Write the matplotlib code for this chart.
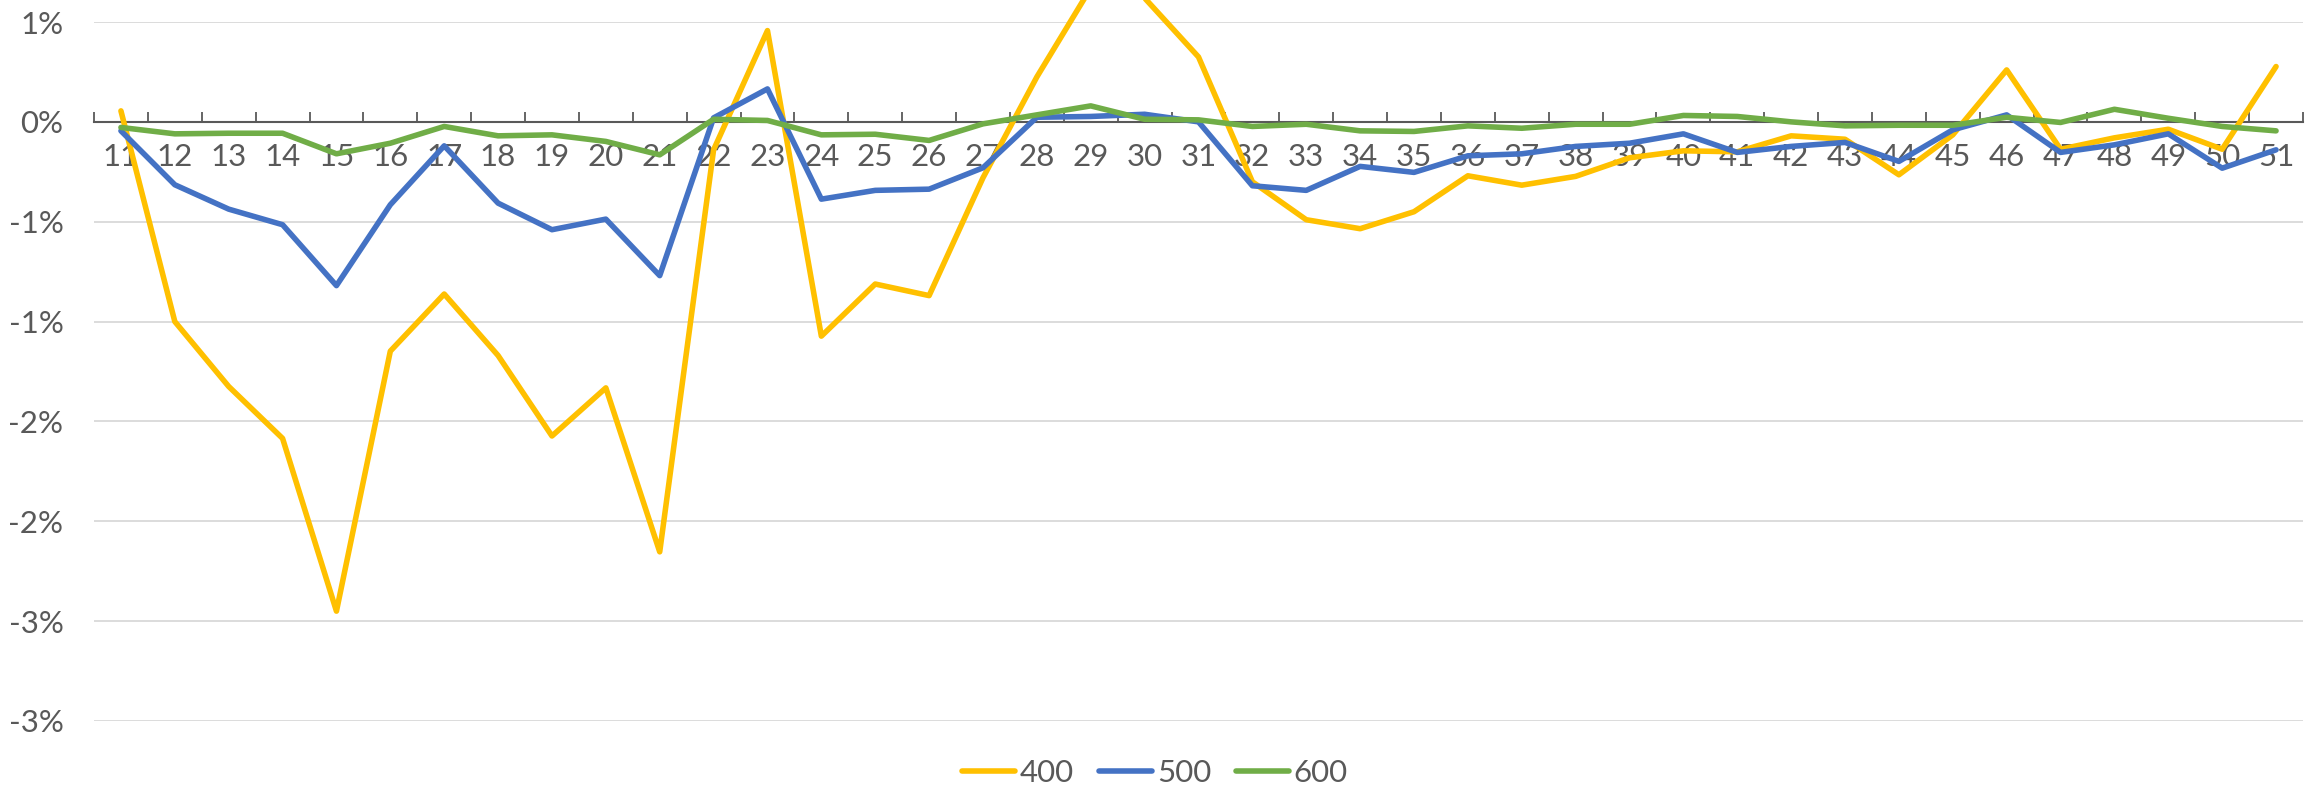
import matplotlib
matplotlib.use("Agg")
import matplotlib.pyplot as plt
from matplotlib.ticker import FixedLocator, FixedFormatter, NullFormatter

categories = [str(i) for i in range(11, 52)]

s400 = [0.055, -1.00, -1.325, -1.585, -2.45, -1.148, -0.862, -1.17, -1.573, -1.332,
        -2.153, -0.14, 0.457, -1.073, -0.812, -0.87, -0.28, 0.225, 0.67, 0.62,
        0.325, -0.30, -0.49, -0.535, -0.45, -0.27, -0.317, -0.273, -0.18, -0.145,
        -0.15, -0.07, -0.087, -0.265, -0.065, 0.26, -0.137, -0.08, -0.037, -0.137,
        0.277]
s500 = [-0.045, -0.315, -0.437, -0.515, -0.82, -0.415, -0.12, -0.407, -0.54, -0.487,
        -0.77, 0.02, 0.165, -0.387, -0.343, -0.337, -0.23, 0.023, 0.027, 0.038,
        0.0, -0.32, -0.343, -0.223, -0.253, -0.17, -0.16, -0.123, -0.107, -0.06,
        -0.153, -0.123, -0.103, -0.198, -0.04, 0.035, -0.153, -0.115, -0.06, -0.232,
        -0.14]
s600 = [-0.028, -0.06, -0.057, -0.057, -0.16, -0.107, -0.023, -0.07, -0.065, -0.098,
        -0.165, 0.013, 0.007, -0.065, -0.062, -0.093, -0.01, 0.035, 0.08, 0.013,
        0.01, -0.023, -0.012, -0.045, -0.048, -0.02, -0.032, -0.012, -0.012, 0.032,
        0.027, 0.0, -0.02, -0.017, -0.017, 0.023, -0.003, 0.063, 0.018, -0.023,
        -0.045]

series_names = ["400", "500", "600"]
y_ticks = [0.5, 0.0, -0.5, -1.0, -1.5, -2.0, -2.5, -3.0]
y_tick_labels = ["1%", "0%", "-1%", "-1%", "-2%", "-2%", "-3%", "-3%"]

colors = ["#FFC000", "#4472C4", "#70AD47"]
txt = "#595959"
font = ["Lato", "DejaVu Sans"]
plt.rcParams["font.family"] = font
fs = 22.5

W, H = 2310, 798
fig = plt.figure(figsize=(W / 100, H / 100), dpi=100)
ax = fig.add_axes([94 / W, 1 - 721 / H, (2303 - 94) / W, (721 - 22) / H])

x = list(range(len(categories)))
for vals, c, name in zip([s400, s500, s600], colors, series_names):
    ax.plot(x, vals, color=c, lw=4.0, label=name, clip_on=False,
            solid_joinstyle="round", solid_capstyle="round", zorder=3)

ax.set_xlim(-0.5, len(categories) - 0.5)
ax.set_ylim(-3.0, 0.5)

ax.yaxis.set_major_locator(FixedLocator(y_ticks))
ax.yaxis.set_major_formatter(FixedFormatter(y_tick_labels))
ax.grid(axis="y", color="#D9D9D9", lw=1.3, zorder=0)
ax.tick_params(axis="y", length=0, pad=22, labelsize=fs, labelcolor=txt)

# x axis at zero, ticks at category boundaries
ax.xaxis.set_major_locator(FixedLocator([i - 0.5 for i in range(len(categories) + 1)]))
ax.xaxis.set_major_formatter(NullFormatter())
ax.xaxis.set_minor_locator(FixedLocator(x))
ax.xaxis.set_minor_formatter(FixedFormatter(categories))
ax.tick_params(axis="x", which="major", direction="in", length=7.5, width=1.3, color=txt)
ax.tick_params(axis="x", which="minor", length=0, pad=15, labelsize=fs, labelcolor=txt)

for s in ["top", "right", "left"]:
    ax.spines[s].set_visible(False)
ax.spines["bottom"].set_position(("data", 0))
ax.spines["bottom"].set_color(txt)
ax.spines["bottom"].set_linewidth(1.5)
ax.spines["bottom"].set_zorder(2)

leg = fig.legend(loc="lower center", bbox_to_anchor=(0.5, -0.022), ncol=3, frameon=False,
                 fontsize=fs, handlelength=1.7, handletextpad=0.15, columnspacing=0.8)
for t in leg.get_texts():
    t.set_color(txt)
for l in leg.get_lines():
    l.set_linewidth(4.0)

fig.savefig("out.png", dpi=100)
